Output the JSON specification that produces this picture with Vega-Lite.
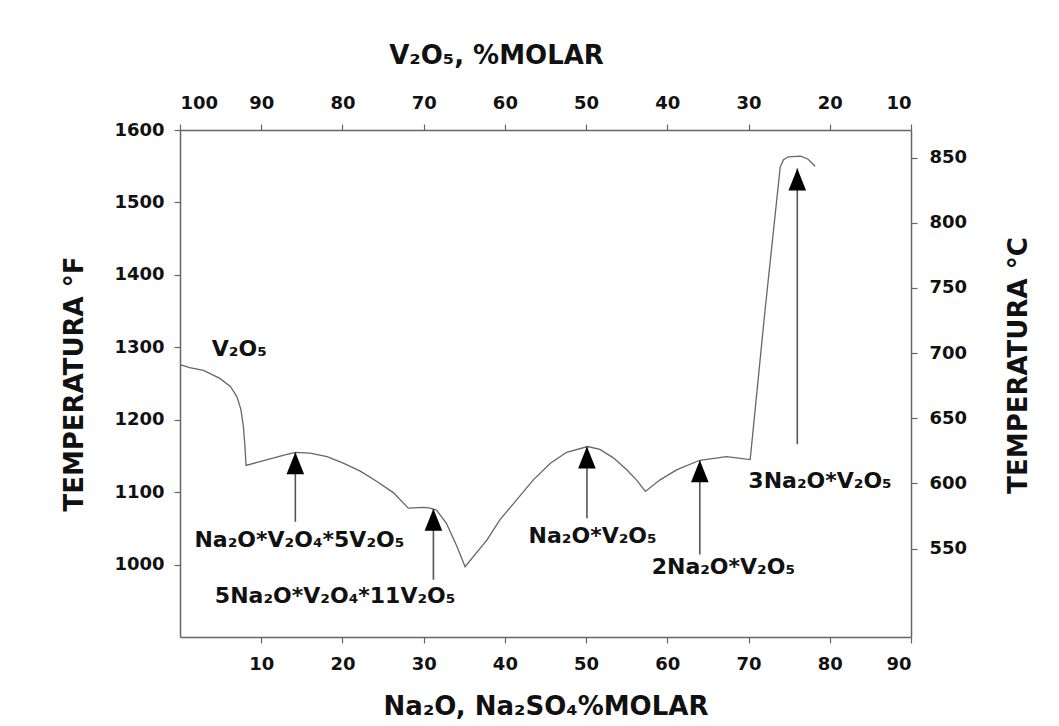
{
  "$schema": "https://vega.github.io/schema/vega-lite/v6.json",
  "width": 731,
  "height": 507,
  "autosize": {"type": "none"},
  "padding": {"left": 180, "top": 130, "right": 148, "bottom": 89},
  "background": "white",
  "config": {
    "view": {"stroke": null},
    "font": "DejaVu Sans",
    "axis": {
      "grid": false,
      "domainColor": "#666666",
      "domainWidth": 1.5,
      "tickColor": "#666666",
      "tickWidth": 1.2,
      "tickSize": 6,
      "labelFont": "DejaVu Sans",
      "labelFontSize": 18,
      "labelFontWeight": "bold",
      "labelColor": "#111111",
      "titleFont": "DejaVu Sans",
      "titleFontSize": 26,
      "titleFontWeight": "bold",
      "titleColor": "#111111"
    }
  },
  "datasets": {
    "curve": [
      {"x": 0, "y": 1276}, {"x": 1.2, "y": 1272}, {"x": 2.9, "y": 1268}, {"x": 4.9, "y": 1257},
      {"x": 6.2, "y": 1246}, {"x": 7.0, "y": 1232}, {"x": 7.5, "y": 1214}, {"x": 7.8, "y": 1191},
      {"x": 8.0, "y": 1163}, {"x": 8.13, "y": 1137},
      {"x": 9.5, "y": 1141}, {"x": 11.1, "y": 1146}, {"x": 12.8, "y": 1151}, {"x": 14.2, "y": 1155},
      {"x": 16.0, "y": 1154}, {"x": 18.1, "y": 1149}, {"x": 20.1, "y": 1140}, {"x": 22.2, "y": 1129},
      {"x": 24.2, "y": 1115}, {"x": 26.3, "y": 1099}, {"x": 28.1, "y": 1078}, {"x": 30.0, "y": 1079},
      {"x": 30.8, "y": 1078}, {"x": 31.6, "y": 1075}, {"x": 32.8, "y": 1057}, {"x": 34.1, "y": 1025},
      {"x": 35.1, "y": 997},
      {"x": 37.8, "y": 1034}, {"x": 39.4, "y": 1062}, {"x": 41.5, "y": 1090}, {"x": 43.5, "y": 1117},
      {"x": 45.6, "y": 1140}, {"x": 47.6, "y": 1155}, {"x": 50.2, "y": 1163}, {"x": 51.7, "y": 1159},
      {"x": 53.4, "y": 1147}, {"x": 55.0, "y": 1131}, {"x": 56.2, "y": 1117}, {"x": 57.3, "y": 1101},
      {"x": 59.1, "y": 1117}, {"x": 61.2, "y": 1131}, {"x": 64.0, "y": 1144}, {"x": 67.3, "y": 1149},
      {"x": 70.2, "y": 1145},
      {"x": 72.0, "y": 1348}, {"x": 73.9, "y": 1549}, {"x": 74.3, "y": 1559}, {"x": 74.9, "y": 1563},
      {"x": 76.4, "y": 1564}, {"x": 77.3, "y": 1560}, {"x": 78.2, "y": 1550}
    ],
    "arrows": [
      {"x": 14.2, "y": 1155, "base": 1059},
      {"x": 31.2, "y": 1077, "base": 979},
      {"x": 50.1, "y": 1163, "base": 1064},
      {"x": 64.0, "y": 1144, "base": 1014},
      {"x": 76.0, "y": 1547, "base": 1166}
    ],
    "labels": [
      {"x": 7.3, "y": 1297, "t": "V₂O₅"},
      {"x": 14.7, "y": 1034, "t": "Na₂O*V₂O₄*5V₂O₅"},
      {"x": 19.1, "y": 956, "t": "5Na₂O*V₂O₄*11V₂O₅"},
      {"x": 50.8, "y": 1039, "t": "Na₂O*V₂O₅"},
      {"x": 66.9, "y": 996, "t": "2Na₂O*V₂O₅"},
      {"x": 78.8, "y": 1115, "t": "3Na₂O*V₂O₅"}
    ],
    "axes": [
      {"v": 100, "c": 550}, {"v": 90, "c": 600}, {"v": 80, "c": 650}, {"v": 70, "c": 700},
      {"v": 60, "c": 750}, {"v": 50, "c": 800}, {"v": 40, "c": 850}, {"v": 30, "c": 850},
      {"v": 20, "c": 850}, {"v": 10, "c": 850}
    ]
  },
  "layer": [
    {
      "encoding": {
        "x": {
          "field": "x", "type": "quantitative",
          "scale": {"domain": [0, 90], "nice": false, "zero": false},
          "axis": {
            "orient": "bottom",
            "values": [10, 20, 30, 40, 50, 60, 70, 80, 90],
            "format": "d",
            "labelPadding": 12,
            "title": "Na₂O, Na₂SO₄%MOLAR",
            "titlePadding": 20
          }
        },
        "y": {
          "field": "y", "type": "quantitative",
          "scale": {"domain": [900, 1600], "nice": false, "zero": false},
          "axis": {
            "orient": "left",
            "values": [1000, 1100, 1200, 1300, 1400, 1500, 1600],
            "format": "d",
            "labelPadding": 10,
            "title": "TEMPERATURA  °F",
            "titlePadding": 26
          }
        }
      },
      "layer": [
        {
          "data": {"name": "curve"},
          "mark": {"type": "line", "color": "#666666", "strokeWidth": 1.3, "interpolate": "linear"}
        },
        {
          "data": {"name": "arrows"},
          "mark": {"type": "rule", "color": "#555555", "strokeWidth": 1.6},
          "encoding": {"y2": {"field": "base"}}
        },
        {
          "data": {"name": "arrows"},
          "mark": {"type": "point", "shape": "M0,0L0.8,2L-0.8,2Z", "size": 484, "filled": true, "color": "#000000", "opacity": 1}
        },
        {
          "data": {"name": "labels"},
          "mark": {"type": "text", "font": "DejaVu Sans", "fontWeight": "bold", "fontSize": 22, "align": "center", "baseline": "middle", "color": "#111111"},
          "encoding": {"text": {"field": "t"}}
        }
      ]
    },
    {
      "data": {"name": "axes"},
      "mark": {"type": "point", "opacity": 0},
      "encoding": {
        "x": {
          "field": "v", "type": "quantitative",
          "scale": {"domain": [100, 10], "nice": false, "zero": false},
          "axis": {
            "orient": "top",
            "values": [100, 90, 80, 70, 60, 50, 40, 30, 20, 10],
            "format": "d",
            "labelPadding": 12,
            "title": "V₂O₅, %MOLAR",
            "titleX": 316,
            "titlePadding": 26
          }
        },
        "y": {
          "field": "c", "type": "quantitative",
          "scale": {"domain": [482.2, 871.1], "nice": false, "zero": false},
          "axis": {
            "orient": "right",
            "values": [550, 600, 650, 700, 750, 800, 850],
            "format": "d",
            "labelPadding": 12,
            "title": "TEMPERATURA  °C",
            "titleAngle": 270,
            "titleY": 235,
            "titlePadding": 65
          }
        }
      }
    }
  ],
  "resolve": {
    "scale": {"x": "independent", "y": "independent"},
    "axis": {"x": "independent", "y": "independent"}
  }
}
